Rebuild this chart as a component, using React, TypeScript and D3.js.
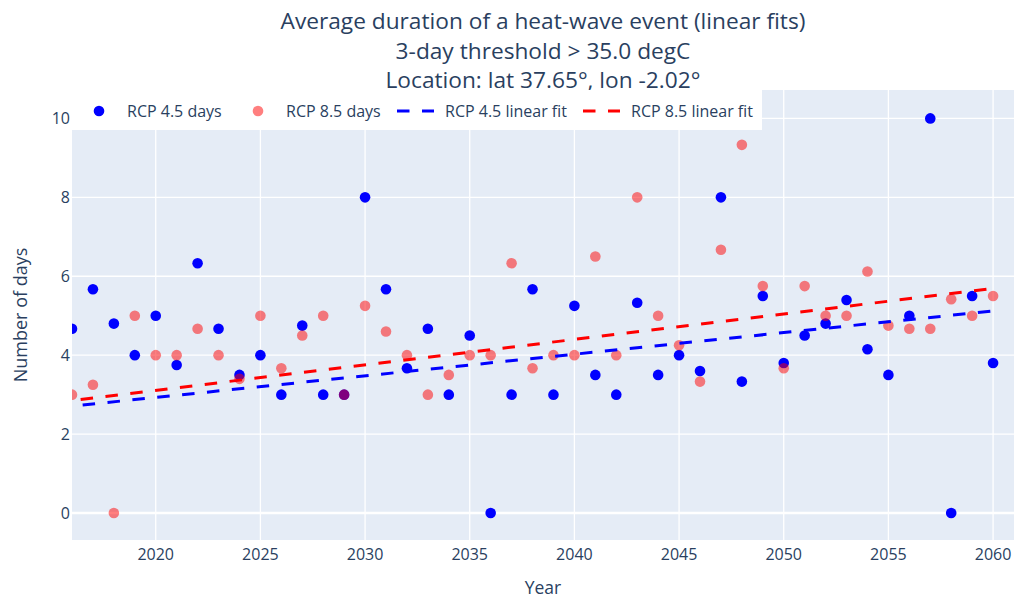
import * as d3 from 'd3';

// data
const years = [
  2016, 2017, 2018, 2019, 2020, 2021, 2022, 2023, 2024, 2025, 2026, 2027, 2028, 2029, 2030,
  2031, 2032, 2033, 2034, 2035, 2036, 2037, 2038, 2039, 2040, 2041, 2042, 2043, 2044, 2045,
  2046, 2047, 2048, 2049, 2050, 2051, 2052, 2053, 2054, 2055, 2056, 2057, 2058, 2059, 2060,
];
const rcp45Days = [
  4.67, 5.67, 4.8, 4, 5, 3.75, 6.33, 4.67, 3.5, 4, 3, 4.75, 3, 3, 8,
  5.67, 3.67, 4.67, 3, 4.5, 0, 3, 5.67, 3, 5.25, 3.5, 3, 5.33, 3.5, 4,
  3.6, 8, 3.33, 5.5, 3.8, 4.5, 4.8, 5.4, 4.15, 3.5, 5, 10, 0, 5.5, 3.8,
];
const rcp85Days = [
  3, 3.25, 0, 5, 4, 4, 4.67, 4, 3.4, 5, 3.67, 4.5, 5, 3, 5.25,
  4.6, 4, 3, 3.5, 4, 4, 6.33, 3.67, 4, 4, 6.5, 4, 8, 5, 4.25,
  3.33, 6.67, 9.33, 5.75, 3.67, 5.75, 5, 5, 6.12, 4.75, 4.67, 4.67, 5.42, 5, 5.5,
];
const fitYears = [2016, 2060];
const rcp45Fit = [2.71, 5.12];
const rcp85Fit = [2.85, 5.69];

const xTicks = [2020, 2025, 2030, 2035, 2040, 2045, 2050, 2055, 2060];
const yTicks = [0, 2, 4, 6, 8, 10];
const legendLabels = ['RCP 4.5 days', 'RCP 8.5 days', 'RCP 4.5 linear fit', 'RCP 8.5 linear fit'];
const titleLines = [
  'Average duration of a heat-wave event (linear fits)',
  '3-day threshold > 35.0 degC',
  'Location: lat 37.65°, lon -2.02°',
];

const W = 1015;
const H = 600;
const plot = { left: 72, right: 1014, top: 90, bottom: 540 };
const font = '"Open Sans", verdana, arial, sans-serif';
const textColor = '#2a3f5f';

export default function App() {
  const x = d3.scaleLinear().domain([2016, 2061]).range([plot.left, plot.right]);
  const y = d3.scaleLinear().domain([-0.684, 10.72]).range([plot.bottom, plot.top]);

  const fitLine = d3.line<number>()
    .x((_, i) => x(fitYears[i]))
    .y(d => y(d));

  const cx = (plot.left + plot.right) / 2;
  const cy = (plot.top + plot.bottom) / 2;

  // legend layout
  const legendY = 111;
  const markerX = [99, 258];
  const lineX = [[397, 434], [583, 620]];
  const textX = [127, 286, 445, 631];

  return (
    <svg width={W} height={H} style={{ position: 'absolute', left: 0, top: 0, background: '#fff' }}
      fontFamily={font}>
      <defs>
        <clipPath id="plotclip">
          <rect x={plot.left} y={plot.top} width={plot.right - plot.left} height={plot.bottom - plot.top} />
        </clipPath>
      </defs>

      {/* plot background */}
      <rect x={plot.left} y={plot.top} width={plot.right - plot.left} height={plot.bottom - plot.top} fill="#E5ECF6" />

      {/* grid */}
      {xTicks.map(t => (
        <line key={'gx' + t} x1={x(t)} x2={x(t)} y1={plot.top} y2={plot.bottom} stroke="#fff" strokeWidth={1.3} />
      ))}
      {yTicks.map(t => (
        <line key={'gy' + t} x1={plot.left} x2={plot.right} y1={y(t)} y2={y(t)} stroke="#fff"
          strokeWidth={t === 0 ? 2.7 : 1.3} />
      ))}

      <g clipPath="url(#plotclip)">
        {years.map((yr, i) => (
          <circle key={'b' + yr} cx={x(yr)} cy={y(rcp45Days[i])} r={5.3} fill="#0000ff" />
        ))}
        {years.map((yr, i) => (
          <circle key={'r' + yr} cx={x(yr)} cy={y(rcp85Days[i])} r={5.3} fill="#ff0000" fillOpacity={0.5} />
        ))}
        <path d={fitLine(rcp45Fit) || ''} fill="none" stroke="#0000ff" strokeWidth={3}
          strokeDasharray="12.5,12.5" strokeDashoffset={14.3} />
        <path d={fitLine(rcp85Fit) || ''} fill="none" stroke="#ff0000" strokeWidth={3}
          strokeDasharray="12.5,12.5" strokeDashoffset={16.3} />
      </g>

      {/* x tick labels */}
      {xTicks.map(t => (
        <text key={'tx' + t} x={x(t)} y={560} textAnchor="middle" fontSize={16} fill={textColor}>{t}</text>
      ))}
      {/* y tick labels */}
      {yTicks.map(t => (
        <text key={'ty' + t} x={70} y={y(t) + 5.8} textAnchor="end" fontSize={16} fill={textColor}>{t}</text>
      ))}

      {/* axis titles */}
      <text x={cx} y={594} textAnchor="middle" fontSize={17.5} fill={textColor}>Year</text>
      <text transform={`translate(27,${cy}) rotate(-90)`} textAnchor="middle" fontSize={18} fill={textColor}>
        Number of days
      </text>

      {/* title */}
      {titleLines.map((t, i) => (
        <text key={'title' + i} x={cx} y={29 + i * 29.5} textAnchor="middle" fontSize={22.7} fill={textColor}>{t}</text>
      ))}

      {/* legend */}
      <rect x={72} y={90} width={762 - 72} height={40} fill="#fff" />
      <circle cx={markerX[0]} cy={legendY} r={5.3} fill="#0000ff" />
      <circle cx={markerX[1]} cy={legendY} r={5.3} fill="#ff0000" fillOpacity={0.5} />
      <line x1={lineX[0][0]} x2={lineX[0][1]} y1={legendY} y2={legendY} stroke="#0000ff" strokeWidth={3}
        strokeDasharray="12.5,12.5" />
      <line x1={lineX[1][0]} x2={lineX[1][1]} y1={legendY} y2={legendY} stroke="#ff0000" strokeWidth={3}
        strokeDasharray="12.5,12.5" />
      {legendLabels.map((l, i) => (
        <text key={'lg' + i} x={textX[i]} y={legendY + 5.8} fontSize={16} fill={textColor}>{l}</text>
      ))}
    </svg>
  );
}
